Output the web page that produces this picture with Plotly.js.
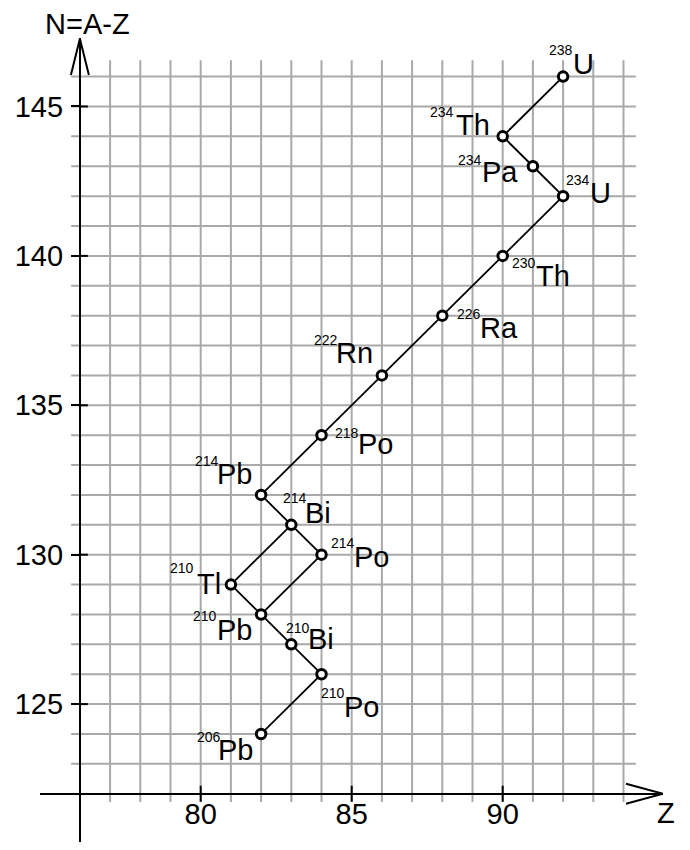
<!DOCTYPE html>
<html>
<head>
<meta charset="utf-8">
<script src="https://cdn.plot.ly/plotly-3.0.1.min.js"></script>
<style>
  html, body { margin: 0; padding: 0; background: #fff; }
  #chart { width: 690px; height: 850px; }
</style>
</head>
<body>
<div id="chart"></div>
<script>
// Uranium-238 decay series on the (Z, N) plane.
const Z = [92, 90, 91, 92, 90, 88, 86, 84, 82, 83, 84, 81, 82, 83, 84, 82];
const A = [238, 234, 234, 234, 230, 226, 222, 218, 214, 214, 214, 210, 210, 210, 210, 206];
const symbols = ['U', 'Th', 'Pa', 'U', 'Th', 'Ra', 'Rn', 'Po', 'Pb', 'Bi', 'Po', 'Tl', 'Pb', 'Bi', 'Po', 'Pb'];
// parent -> daughter (indices into the arrays above)
const decays = [[0, 1], [1, 2], [2, 3], [3, 4], [4, 5], [5, 6], [6, 7], [7, 8], [8, 9],
                [9, 10], [9, 11], [10, 12], [11, 12], [12, 13], [13, 14], [14, 15]];
const zTicks = [80, 85, 90];
const nTicks = [125, 130, 135, 140, 145];

// N = A - Z
const N = A.map((a, i) => a - Z[i]);

// Label placement, pixels from the nuclide marker:
// sx = left edge of the element symbol, sy = its vertical centre,
// mx = right edge of the mass number, my = its vertical centre.
const labelPlacement = [
  { sx: 10,    sy: -12.9, mx: 10.3,  my: -26.7 },
  { sx: -47,   sy: -11.2, mx: -48.4, my: -24.4 },
  { sx: -51,   sy: 6.1,   mx: -50.7, my: -6.7 },
  { sx: 26.4,  sy: -2.9,  mx: 26.6,  my: -16.4 },
  { sx: 33.7,  sy: 20.5,  mx: 33.3,  my: 7.6 },
  { sx: 37.8,  sy: 12.6,  mx: 38.2,  my: -2 },
  { sx: -45.6, sy: -22.7, mx: -43.8, my: -35.4 },
  { sx: 36.1,  sy: 9.3,   mx: 37.2,  my: -1.7 },
  { sx: -44.6, sy: -21.3, mx: -42.1, my: -34 },
  { sx: 13.9,  sy: -12.3, mx: 15.6,  my: -27.3 },
  { sx: 32.8,  sy: 2,     mx: 33.9,  my: -11.3 },
  { sx: -34.4, sy: -0.8,  mx: -37.1, my: -16.3 },
  { sx: -44.6, sy: 16,    mx: -43.8, my: 1.7 },
  { sx: 16.9,  sy: -5.5,  mx: 18.2,  my: -16.6 },
  { sx: 22.8,  sy: 32.5,  mx: 23.2,  my: 18.4 },
  { sx: -42.9, sy: 15.7,  mx: -40.4, my: 3 }
];

// Plot geometry
const W = 690, H = 850;
const margin = { l: 40, r: 27, t: 38, b: 8 };
const xRange = [74.679, 95.308];
const yRange = [120.385, 147.292];
const plotW = W - margin.l - margin.r;
const plotH = H - margin.t - margin.b;
const pxPerZ = plotW / (xRange[1] - xRange[0]);
const pxPerN = plotH / (yRange[1] - yRange[0]);
const dz = px => px / pxPerZ;
const dn = px => px / pxPerN;

// axes cross here
const zOrigin = 76, nOrigin = 122;

const FONT = 'Liberation Sans, Arial, Helvetica, sans-serif';
const GRID = '#a9a9a9';

// decay links as one broken polyline
const lx = [], ly = [];
decays.forEach(([p, d]) => {
  lx.push(Z[p], Z[d], null);
  ly.push(N[p], N[d], null);
});

const traces = [
  {
    type: 'scatter', mode: 'lines', x: lx, y: ly,
    line: { color: '#000', width: 1.8 }, hoverinfo: 'skip', cliponaxis: false
  },
  {
    type: 'scatter', mode: 'markers', x: Z, y: N,
    text: symbols.map((s, i) => A[i] + s),
    marker: { symbol: 'circle', size: 9.5, color: '#fff', line: { color: '#000', width: 3 } },
    cliponaxis: false
  }
];

const shapes = [];
// grid
const zGridMin = 75.71, zGridMax = 94.41, nGridMin = 121.72, nGridMax = 146.55;
for (let z = 77; z <= 94; z++) {
  shapes.push({ type: 'line', xref: 'x', yref: 'y', x0: z, x1: z, y0: nGridMin, y1: nGridMax,
    line: { color: GRID, width: 2 }, layer: 'below' });
}
for (let n = 123; n <= 146; n++) {
  shapes.push({ type: 'line', xref: 'x', yref: 'y', x0: zGridMin, x1: zGridMax, y0: n, y1: n,
    line: { color: GRID, width: 2 }, layer: 'below' });
}
// Z tick marks cross the axis line
zTicks.forEach(z => shapes.push({ type: 'line', xref: 'x', yref: 'y', x0: z, x1: z,
  y0: nOrigin - dn(8), y1: nOrigin + dn(8), line: { color: '#000', width: 2 } }));
// inner halves of the N tick marks
nTicks.forEach(n => shapes.push({ type: 'line', xref: 'x', yref: 'y', x0: zOrigin, x1: zOrigin + dz(8),
  y0: n, y1: n, line: { color: '#000', width: 2 } }));
// open arrowheads at the axis ends
const zTip = xRange[1], nTip = yRange[1];
shapes.push({ type: 'path', xref: 'x', yref: 'y',
  path: `M ${zTip - dz(37)} ${nOrigin + dn(10)} L ${zTip} ${nOrigin} L ${zTip - dz(37)} ${nOrigin - dn(10)}`,
  line: { color: '#000', width: 2 } });
shapes.push({ type: 'path', xref: 'x', yref: 'y',
  path: `M ${zOrigin - dz(9)} ${nTip - dn(37)} L ${zOrigin} ${nTip - dn(0.8)} L ${zOrigin + dz(9)} ${nTip - dn(37)}`,
  line: { color: '#000', width: 2 } });

const annotations = [];
Z.forEach((z, i) => {
  const p = labelPlacement[i];
  annotations.push({ x: z, y: N[i], xref: 'x', yref: 'y', text: symbols[i], showarrow: false,
    xanchor: 'left', yanchor: 'middle', xshift: p.sx, yshift: -p.sy,
    borderpad: 0, borderwidth: 0, font: { family: FONT, size: 29, color: '#000' } });
  annotations.push({ x: z, y: N[i], xref: 'x', yref: 'y', text: String(A[i]), showarrow: false,
    xanchor: 'right', yanchor: 'middle', xshift: p.mx, yshift: -p.my,
    borderpad: 0, borderwidth: 0, font: { family: FONT, size: 14, color: '#000' } });
});
// axis names
annotations.push({ x: zOrigin, y: 1, xref: 'x', yref: 'paper', text: 'N=A-Z', showarrow: false,
  xanchor: 'center', yanchor: 'middle', xshift: 8, yshift: 14.5,
  borderpad: 0, borderwidth: 0, font: { family: FONT, size: 29, color: '#000' } });
annotations.push({ x: xRange[1], y: nOrigin, xref: 'x', yref: 'y', text: 'Z', showarrow: false,
  xanchor: 'center', yanchor: 'middle', xshift: 3, yshift: -18.8,
  borderpad: 0, borderwidth: 0, font: { family: FONT, size: 29, color: '#000' } });

const axisCommon = {
  showgrid: false, zeroline: false, showline: true, linecolor: '#000', linewidth: 2,
  tickwidth: 2, tickcolor: '#000', tickmode: 'array',
  tickfont: { family: FONT, size: 29, color: '#000' }, anchor: 'free', automargin: false,
  fixedrange: true
};

const layout = {
  width: W, height: H,
  margin: Object.assign({ pad: 0 }, margin),
  paper_bgcolor: '#fff', plot_bgcolor: '#fff',
  showlegend: false,
  font: { family: FONT, color: '#000' },
  xaxis: Object.assign({}, axisCommon, {
    range: xRange, tickvals: zTicks, ticks: '', ticklabelstandoff: -6,
    position: (nOrigin - yRange[0]) / (yRange[1] - yRange[0])
  }),
  yaxis: Object.assign({}, axisCommon, {
    range: yRange, tickvals: nTicks, ticks: 'outside', ticklen: 8, ticklabelstandoff: 2,
    position: (zOrigin - xRange[0]) / (xRange[1] - xRange[0])
  }),
  shapes: shapes,
  annotations: annotations
};

Plotly.newPlot('chart', traces, layout, { displayModeBar: false, staticPlot: true });
</script>
</body>
</html>
